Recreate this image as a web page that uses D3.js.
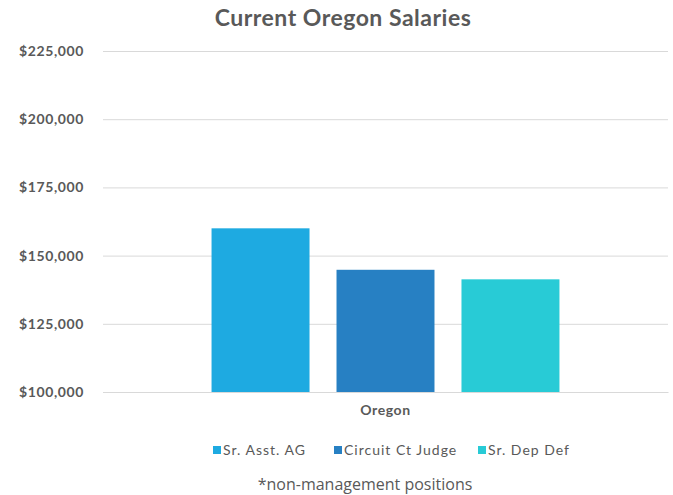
<!DOCTYPE html>
<html>
<head>
<meta charset="utf-8">
<script src="https://cdn.jsdelivr.net/npm/d3@7"></script>
<style>
  body { margin: 0; background: #fff; }
  text { font-family: Lato, "DejaVu Sans", sans-serif; }
</style>
</head>
<body>
<div id="graphic"></div>
<script>
// chart data
const categories = ['Oregon'];
const seriesNames = ['Sr. Asst. AG', 'Circuit Ct Judge', 'Sr. Dep Def'];
const seriesValues = [160000, 144800, 141300];
const colours = ['#1eaae1', '#2780c3', '#28cbd6'];
const yTicks = [100000, 125000, 150000, 175000, 200000, 225000];

const width = 673, height = 495;
const margin = { top: 51, right: 5, bottom: 103, left: 103 };
const chartWidth = width - margin.left - margin.right;
const chartHeight = height - margin.top - margin.bottom;

const svg = d3.select('#graphic').append('svg')
	.attr('width', width)
	.attr('height', height);

const g = svg.append('g')
	.attr('transform', `translate(${margin.left},${margin.top})`);

const y = d3.scaleLinear()
	.domain([100000, 225000])
	.range([chartHeight, 0]);

const x0 = d3.scaleBand()
	.domain(categories)
	.range([0, chartWidth])
	.paddingInner(0)
	.paddingOuter(0.312);

const x1 = d3.scaleBand()
	.domain(seriesNames)
	.range([0, x0.bandwidth()])
	.paddingInner(0.216)
	.paddingOuter(0);

// grid
g.append('g')
	.attr('class', 'grid')
	.call(d3.axisLeft(y).tickValues(yTicks).tickSize(-chartWidth).tickFormat(''))
	.call(s => s.select('.domain').remove())
	.selectAll('line')
	.attr('stroke', '#d9d9d9');

// y labels
g.append('g')
	.call(d3.axisLeft(y).tickValues(yTicks).tickSize(0).tickPadding(19)
		.tickFormat(d => '$' + d3.format(',')(d)))
	.call(s => s.select('.domain').remove())
	.selectAll('text')
	.attr('fill', '#595959')
	.style('font-size', '14px')
	.style('letter-spacing', '0.6px')
	.style('font-weight', 'bold');

// bars
categories.forEach(cat => {
	g.selectAll('rect.bar')
		.data(seriesNames.map((s, i) => ({ s, v: seriesValues[i], c: colours[i] })))
		.join('rect')
		.attr('class', 'bar')
		.attr('x', d => x0(cat) + x1(d.s))
		.attr('width', x1.bandwidth())
		.attr('y', d => y(d.v))
		.attr('height', d => chartHeight - y(d.v))
		.attr('fill', d => d.c);
});

// x axis labels
g.append('g')
	.attr('transform', `translate(0,${chartHeight})`)
	.call(d3.axisBottom(x0).tickSize(0).tickPadding(13))
	.call(s => s.select('.domain').attr('stroke', '#d9d9d9'))
	.selectAll('text')
	.attr('fill', '#595959')
	.style('font-size', '14px')
	.style('letter-spacing', '0.6px')
	.style('font-weight', 'bold');

// title
svg.append('text')
	.attr('x', 343)
	.attr('y', 26)
	.attr('text-anchor', 'middle')
	.attr('fill', '#595959')
	.style('font-size', '23px')
	.style('letter-spacing', '0.5px')
	.style('font-weight', 'bold')
	.text('Current Oregon Salaries');

// legend
const legendX = [213, 334, 478];
const legend = svg.append('g').attr('transform', 'translate(0,450)');
seriesNames.forEach((s, i) => {
	legend.append('rect')
		.attr('x', legendX[i])
		.attr('y', -4)
		.attr('width', 8)
		.attr('height', 8)
		.attr('fill', colours[i]);
	legend.append('text')
		.attr('x', legendX[i] + 10)
		.attr('y', 5)
		.attr('fill', '#595959')
		.style('font-size', '14px')
		.style('letter-spacing', '1px')
		.text(s);
});

// footnote
svg.append('text')
	.attr('x', 365)
	.attr('y', 490)
	.attr('text-anchor', 'middle')
	.attr('fill', '#595959')
	.style('font-family', '"Open Sans", sans-serif')
	.style('font-size', '16px')
	.text('*non-management positions');
</script>
</body>
</html>
